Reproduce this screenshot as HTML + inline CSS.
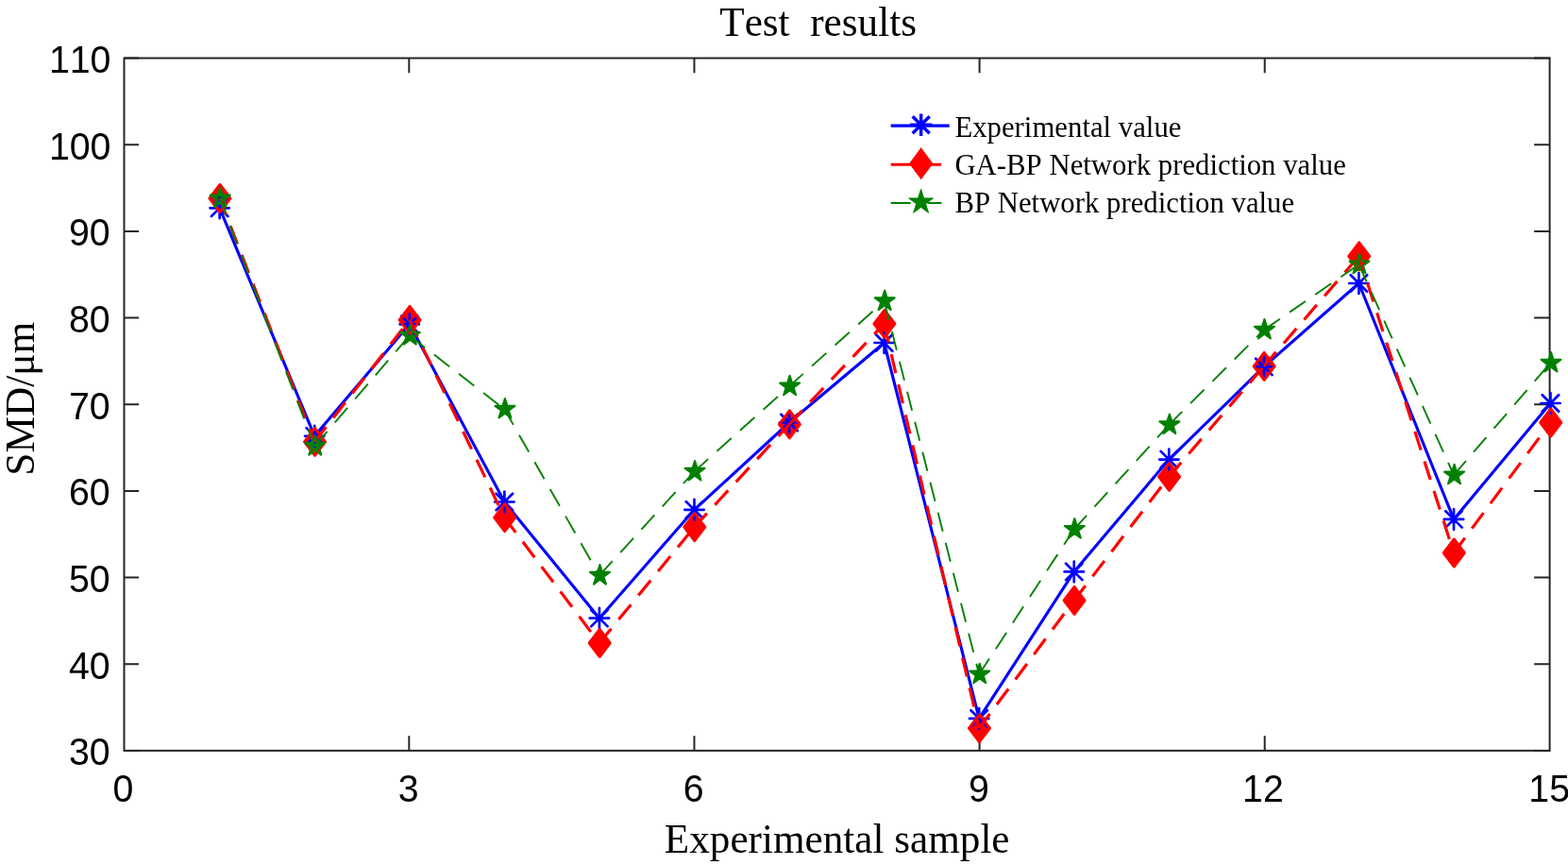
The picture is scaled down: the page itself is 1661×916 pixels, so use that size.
<!DOCTYPE html>
<html lang="en"><head><meta charset="utf-8"><title>Test results</title>
<style>
html,body{margin:0;padding:0;background:#fff;}
body{width:1661px;height:916px;overflow:hidden;}
svg{display:block;}
text{white-space:pre;font-kerning:none;}
.sans{font-family:"Liberation Sans",sans-serif;fill:#000;}
.serif{font-family:"Liberation Serif",serif;fill:#000;}
</style></head><body>
<svg width="1661" height="916" viewBox="0 0 1661 916" role="img" aria-label="Test results chart">
<rect width="1661" height="916" fill="#fff"/>
<g id="axes" fill="none" stroke="#262626" stroke-width="2" stroke-linecap="butt">
<rect x="131.5" y="61.55" width="1510.1" height="733.35"/>
<path d="M433.33 794.9v-15.6M433.33 61.55v15.6M735.46 794.9v-15.6M735.46 61.55v15.6M1037.59 794.9v-15.6M1037.59 61.55v15.6M1339.72 794.9v-15.6M1339.72 61.55v15.6M131.5 794.9h15.6M1642.2 794.9h-17.1M131.5 703.23h15.6M1642.2 703.23h-17.1M131.5 611.56h15.6M1642.2 611.56h-17.1M131.5 519.89h15.6M1642.2 519.89h-17.1M131.5 428.22h15.6M1642.2 428.22h-17.1M131.5 336.56h15.6M1642.2 336.56h-17.1M131.5 244.89h15.6M1642.2 244.89h-17.1M131.5 153.22h15.6M1642.2 153.22h-17.1M131.5 61.55h15.6M1642.2 61.55h-17.1"/>
</g>
<g id="yticks" class="sans" font-size="39.3" text-anchor="end">
<text transform="translate(116.6 809.6) scale(1 1.04)">30</text>
<text transform="translate(116.6 718.5) scale(1 1.04)">40</text>
<text transform="translate(116.6 626.6) scale(1 1.04)">50</text>
<text transform="translate(116.6 534.6) scale(1 1.04)">60</text>
<text transform="translate(116.6 443.5) scale(1 1.04)">70</text>
<text transform="translate(116.6 351.6) scale(1 1.04)">80</text>
<text transform="translate(116.6 259.6) scale(1 1.04)">90</text>
<text transform="translate(117.45 168.5) scale(1 1.04)">100</text>
<text transform="translate(117.45 76.5) scale(1 1.04)">110</text>
</g>
<g id="xticks" class="sans" font-size="39.3" text-anchor="middle">
<text transform="translate(130.5 848.8) scale(1 1.04)">0</text>
<text transform="translate(432.63 848.8) scale(1 1.04)">3</text>
<text transform="translate(734.76 848.8) scale(1 1.04)">6</text>
<text transform="translate(1036.89 848.8) scale(1 1.04)">9</text>
<text transform="translate(1337.92 848.8) scale(1 1.04)">12</text>
<text transform="translate(1641.15 848.8) scale(1 1.04)">15</text>
</g>
<g id="labels" class="serif" font-size="43.2" text-anchor="middle">
<text transform="translate(866.6 38) scale(1 1.022)">Test  results</text>
<text transform="translate(886.7 903.1) scale(1 1.022)">Experimental sample</text>
<text transform="translate(36 422.3) rotate(-90) scale(1 1.02)" font-size="43.3">SMD/μm</text>
</g>
<g id="fills" stroke="none">
<g fill="#ff0000">
<polygon points="232.97,195.5 243.97,210 232.97,224.5 221.97,210"/>
<polygon points="333.53,453.4 344.53,467.9 333.53,482.4 322.53,467.9"/>
<polygon points="434.09,324.3 445.09,338.8 434.09,353.3 423.09,338.8"/>
<polygon points="534.66,533.6 545.66,548.1 534.66,562.6 523.66,548.1"/>
<polygon points="635.22,666.5 646.22,681 635.22,695.5 624.22,681"/>
<polygon points="735.79,543.7 746.79,558.2 735.79,572.7 724.79,558.2"/>
<polygon points="836.35,434.8 847.35,449.3 836.35,463.8 825.35,449.3"/>
<polygon points="936.92,328.4 947.92,342.9 936.92,357.4 925.92,342.9"/>
<polygon points="1037.48,756.7 1048.48,771.2 1037.48,785.7 1026.48,771.2"/>
<polygon points="1138.05,621.4 1149.05,635.9 1138.05,650.4 1127.05,635.9"/>
<polygon points="1238.61,490.4 1249.61,504.9 1238.61,519.4 1227.61,504.9"/>
<polygon points="1339.18,373.35 1350.18,387.85 1339.18,402.35 1328.18,387.85"/>
<polygon points="1439.74,256.8 1450.74,271.3 1439.74,285.8 1428.74,271.3"/>
<polygon points="1540.31,571 1551.31,585.5 1540.31,600 1529.31,585.5"/>
<polygon points="1642.75,433 1653.75,447.5 1642.75,462 1631.75,447.5"/>
</g><g fill="#008000">
<polygon points="233.22,198.77 235.68,206.6 243.68,206.6 237.21,211.44 239.68,219.27 233.22,214.43 226.75,219.27 229.22,211.44 222.75,206.6 230.75,206.6"/>
<polygon points="333.78,461.07 336.25,468.9 344.24,468.9 337.78,473.74 340.25,481.57 333.78,476.73 327.31,481.57 329.78,473.74 323.32,468.9 331.31,468.9"/>
<polygon points="434.34,344.07 436.81,351.9 444.81,351.9 438.34,356.74 440.81,364.57 434.34,359.73 427.88,364.57 430.35,356.74 423.88,351.9 431.88,351.9"/>
<polygon points="534.91,421.97 537.38,429.8 545.37,429.8 538.91,434.64 541.38,442.47 534.91,437.63 528.44,442.47 530.91,434.64 524.45,429.8 532.44,429.8"/>
<polygon points="635.47,598.07 637.94,605.9 645.94,605.9 639.47,610.74 641.94,618.57 635.47,613.73 629.01,618.57 631.48,610.74 625.01,605.9 633.01,605.9"/>
<polygon points="736.04,487.97 738.51,495.8 746.5,495.8 740.04,500.64 742.51,508.47 736.04,503.63 729.57,508.47 732.04,500.64 725.58,495.8 733.57,495.8"/>
<polygon points="836.6,397.77 839.07,405.6 847.07,405.6 840.6,410.44 843.07,418.27 836.6,413.43 830.14,418.27 832.61,410.44 826.14,405.6 834.14,405.6"/>
<polygon points="937.17,307.57 939.64,315.4 947.63,315.4 941.17,320.24 943.64,328.07 937.17,323.23 930.7,328.07 933.17,320.24 926.71,315.4 934.7,315.4"/>
<polygon points="1037.73,702.77 1040.2,710.6 1048.2,710.6 1041.73,715.44 1044.2,723.27 1037.73,718.43 1031.27,723.27 1033.74,715.44 1027.27,710.6 1035.27,710.6"/>
<polygon points="1138.3,549.17 1140.77,557 1148.76,557 1142.3,561.84 1144.77,569.67 1138.3,564.83 1131.83,569.67 1134.3,561.84 1127.84,557 1135.83,557"/>
<polygon points="1238.86,438.57 1241.33,446.4 1249.33,446.4 1242.86,451.24 1245.33,459.07 1238.86,454.23 1232.4,459.07 1234.87,451.24 1228.4,446.4 1236.4,446.4"/>
<polygon points="1339.43,338.02 1341.9,345.85 1349.89,345.85 1343.43,350.69 1345.9,358.52 1339.43,353.68 1332.96,358.52 1335.43,350.69 1328.97,345.85 1336.96,345.85"/>
<polygon points="1439.99,268.77 1442.46,276.6 1450.46,276.6 1443.99,281.44 1446.46,289.27 1439.99,284.43 1433.53,289.27 1436,281.44 1429.53,276.6 1437.53,276.6"/>
<polygon points="1540.56,491.77 1543.03,499.6 1551.02,499.6 1544.56,504.44 1547.03,512.27 1540.56,507.43 1534.09,512.27 1536.56,504.44 1530.1,499.6 1538.09,499.6"/>
<polygon points="1643,372.97 1645.47,380.8 1653.46,380.8 1647,385.64 1649.47,393.47 1643,388.63 1636.53,393.47 1639,385.64 1632.54,380.8 1640.53,380.8"/>
</g></g>
<g id="experimental" fill="none" stroke="#0000ff">
<polyline points="232.66,220.3 333.23,461.8 433.79,343.3 534.36,531.5 634.92,654.7 735.49,539.85 836.05,447.5 936.62,363 1037.18,760.9 1137.75,605.45 1238.31,486.6 1338.88,388.45 1439.44,300 1540.01,549.9 1642.45,427" stroke-width="3.1" stroke-linejoin="round"/>
<path stroke-width="2.7" stroke-linecap="round" d="M232.66 209.4V231.2 M222.47 220.3H242.86 M223.97 211.6L241.36 229 M223.97 229L241.36 211.6 M333.23 450.9V472.7 M323.03 461.8H343.43 M324.53 453.1L341.93 470.5 M324.53 470.5L341.93 453.1 M433.79 332.4V354.2 M423.59 343.3H443.99 M425.09 334.6L442.49 352 M425.09 352L442.49 334.6 M534.36 520.6V542.4 M524.16 531.5H544.56 M525.66 522.8L543.06 540.2 M525.66 540.2L543.06 522.8 M634.92 643.8V665.6 M624.72 654.7H645.12 M626.22 646L643.62 663.4 M626.22 663.4L643.62 646 M735.49 528.95V550.75 M725.29 539.85H745.69 M726.79 531.15L744.19 548.55 M726.79 548.55L744.19 531.15 M836.05 436.6V458.4 M825.85 447.5H846.25 M827.35 438.8L844.75 456.2 M827.35 456.2L844.75 438.8 M936.62 352.1V373.9 M926.42 363H946.82 M927.92 354.3L945.32 371.7 M927.92 371.7L945.32 354.3 M1037.18 750V771.8 M1026.98 760.9H1047.38 M1028.48 752.2L1045.88 769.6 M1028.48 769.6L1045.88 752.2 M1137.75 594.55V616.35 M1127.55 605.45H1147.95 M1129.05 596.75L1146.45 614.15 M1129.05 614.15L1146.45 596.75 M1238.31 475.7V497.5 M1228.11 486.6H1248.51 M1229.61 477.9L1247.01 495.3 M1229.61 495.3L1247.01 477.9 M1338.88 377.55V399.35 M1328.68 388.45H1349.08 M1330.18 379.75L1347.58 397.15 M1330.18 397.15L1347.58 379.75 M1439.44 289.1V310.9 M1429.24 300H1449.64 M1430.74 291.3L1448.14 308.7 M1430.74 308.7L1448.14 291.3 M1540.01 539V560.8 M1529.81 549.9H1550.21 M1531.31 541.2L1548.71 558.6 M1531.31 558.6L1548.71 541.2 M1642.45 416.1V437.9 M1632.25 427H1652.65 M1633.75 418.3L1651.15 435.7 M1633.75 435.7L1651.15 418.3"/>
</g>
<g id="gabp" fill="none" stroke="#ff0000">
<g stroke-width="3.2">
<path d="M232.66 210L333.23 467.9" stroke-dasharray="20.59 12.41" stroke-dashoffset="1.8"/>
<path d="M333.23 467.9L433.79 338.8" stroke-dasharray="20.59 12.41" stroke-dashoffset="0.8"/>
<path d="M433.79 338.8L534.36 548.1" stroke-dasharray="20.59 12.41" stroke-dashoffset="0.8"/>
<path d="M534.36 548.1L634.92 681" stroke-dasharray="20.59 12.41" stroke-dashoffset="0.8"/>
<path d="M634.92 681L735.49 558.2" stroke-dasharray="20.59 12.41" stroke-dashoffset="0.8"/>
<path d="M735.49 558.2L836.05 449.3" stroke-dasharray="20.59 12.41" stroke-dashoffset="0.8"/>
<path d="M836.05 449.3L936.62 342.9" stroke-dasharray="20.59 12.41" stroke-dashoffset="0.8"/>
<path d="M936.62 342.9L1037.18 771.2" stroke-dasharray="20.59 12.41"/>
<path d="M1037.18 771.2L1137.75 635.9" stroke-dasharray="20.59 12.41" stroke-dashoffset="1.6"/>
<path d="M1137.75 635.9L1238.31 504.9" stroke-dasharray="20.59 12.41" stroke-dashoffset="0.8"/>
<path d="M1238.31 504.9L1338.88 387.85" stroke-dasharray="20.59 12.41" stroke-dashoffset="0.8"/>
<path d="M1338.88 387.85L1439.44 271.3" stroke-dasharray="20.59 12.41" stroke-dashoffset="0.8"/>
<path d="M1439.44 271.3L1540.01 585.5" stroke-dasharray="20.59 12.41" stroke-dashoffset="3"/>
<path d="M1540.01 585.5L1642.45 447.5" stroke-dasharray="20.59 12.41" stroke-dashoffset="0.8"/>
</g>
<g stroke-width="3" stroke-linejoin="round">
<polygon points="232.97,195.5 243.97,210 232.97,224.5 221.97,210"/>
<polygon points="333.53,453.4 344.53,467.9 333.53,482.4 322.53,467.9"/>
<polygon points="434.09,324.3 445.09,338.8 434.09,353.3 423.09,338.8"/>
<polygon points="534.66,533.6 545.66,548.1 534.66,562.6 523.66,548.1"/>
<polygon points="635.22,666.5 646.22,681 635.22,695.5 624.22,681"/>
<polygon points="735.79,543.7 746.79,558.2 735.79,572.7 724.79,558.2"/>
<polygon points="836.35,434.8 847.35,449.3 836.35,463.8 825.35,449.3"/>
<polygon points="936.92,328.4 947.92,342.9 936.92,357.4 925.92,342.9"/>
<polygon points="1037.48,756.7 1048.48,771.2 1037.48,785.7 1026.48,771.2"/>
<polygon points="1138.05,621.4 1149.05,635.9 1138.05,650.4 1127.05,635.9"/>
<polygon points="1238.61,490.4 1249.61,504.9 1238.61,519.4 1227.61,504.9"/>
<polygon points="1339.18,373.35 1350.18,387.85 1339.18,402.35 1328.18,387.85"/>
<polygon points="1439.74,256.8 1450.74,271.3 1439.74,285.8 1428.74,271.3"/>
<polygon points="1540.31,571 1551.31,585.5 1540.31,600 1529.31,585.5"/>
<polygon points="1642.75,433 1653.75,447.5 1642.75,462 1631.75,447.5"/>
</g></g>
<g id="bp" fill="none" stroke="#008000">
<g stroke-width="1.9">
<path d="M232.66 210.1L333.23 472.4" stroke-dasharray="20.59 12.41" stroke-dashoffset="1.6"/>
<path d="M333.23 472.4L433.79 355.4" stroke-dasharray="20.59 12.41"/>
<path d="M433.79 355.4L534.36 433.3" stroke-dasharray="20.59 12.41"/>
<path d="M534.36 433.3L634.92 609.4" stroke-dasharray="20.59 12.41" stroke-dashoffset="1.5"/>
<path d="M634.92 609.4L735.49 499.3" stroke-dasharray="20.59 12.41"/>
<path d="M735.49 499.3L836.05 409.1" stroke-dasharray="20.59 12.41" stroke-dashoffset="0.8"/>
<path d="M836.05 409.1L936.62 318.9" stroke-dasharray="20.59 12.41" stroke-dashoffset="0.8"/>
<path d="M936.62 318.9L1037.18 714.1" stroke-dasharray="20.59 12.41"/>
<path d="M1037.18 714.1L1137.75 560.5" stroke-dasharray="20.59 12.41" stroke-dashoffset="0.8"/>
<path d="M1137.75 560.5L1238.31 449.9" stroke-dasharray="20.59 12.41" stroke-dashoffset="0.8"/>
<path d="M1238.31 449.9L1338.88 349.35" stroke-dasharray="20.59 12.41" stroke-dashoffset="0.8"/>
<path d="M1338.88 349.35L1439.44 280.1" stroke-dasharray="20.59 12.41"/>
<path d="M1439.44 280.1L1540.01 503.1" stroke-dasharray="20.59 12.41" stroke-dashoffset="0.8"/>
<path d="M1540.01 503.1L1642.45 384.3" stroke-dasharray="20.59 12.41" stroke-dashoffset="0.8"/>
</g>
<g stroke-width="2.1" stroke-linejoin="round">
<polygon points="233.22,198.77 235.68,206.6 243.68,206.6 237.21,211.44 239.68,219.27 233.22,214.43 226.75,219.27 229.22,211.44 222.75,206.6 230.75,206.6"/>
<polygon points="333.78,461.07 336.25,468.9 344.24,468.9 337.78,473.74 340.25,481.57 333.78,476.73 327.31,481.57 329.78,473.74 323.32,468.9 331.31,468.9"/>
<polygon points="434.34,344.07 436.81,351.9 444.81,351.9 438.34,356.74 440.81,364.57 434.34,359.73 427.88,364.57 430.35,356.74 423.88,351.9 431.88,351.9"/>
<polygon points="534.91,421.97 537.38,429.8 545.37,429.8 538.91,434.64 541.38,442.47 534.91,437.63 528.44,442.47 530.91,434.64 524.45,429.8 532.44,429.8"/>
<polygon points="635.47,598.07 637.94,605.9 645.94,605.9 639.47,610.74 641.94,618.57 635.47,613.73 629.01,618.57 631.48,610.74 625.01,605.9 633.01,605.9"/>
<polygon points="736.04,487.97 738.51,495.8 746.5,495.8 740.04,500.64 742.51,508.47 736.04,503.63 729.57,508.47 732.04,500.64 725.58,495.8 733.57,495.8"/>
<polygon points="836.6,397.77 839.07,405.6 847.07,405.6 840.6,410.44 843.07,418.27 836.6,413.43 830.14,418.27 832.61,410.44 826.14,405.6 834.14,405.6"/>
<polygon points="937.17,307.57 939.64,315.4 947.63,315.4 941.17,320.24 943.64,328.07 937.17,323.23 930.7,328.07 933.17,320.24 926.71,315.4 934.7,315.4"/>
<polygon points="1037.73,702.77 1040.2,710.6 1048.2,710.6 1041.73,715.44 1044.2,723.27 1037.73,718.43 1031.27,723.27 1033.74,715.44 1027.27,710.6 1035.27,710.6"/>
<polygon points="1138.3,549.17 1140.77,557 1148.76,557 1142.3,561.84 1144.77,569.67 1138.3,564.83 1131.83,569.67 1134.3,561.84 1127.84,557 1135.83,557"/>
<polygon points="1238.86,438.57 1241.33,446.4 1249.33,446.4 1242.86,451.24 1245.33,459.07 1238.86,454.23 1232.4,459.07 1234.87,451.24 1228.4,446.4 1236.4,446.4"/>
<polygon points="1339.43,338.02 1341.9,345.85 1349.89,345.85 1343.43,350.69 1345.9,358.52 1339.43,353.68 1332.96,358.52 1335.43,350.69 1328.97,345.85 1336.96,345.85"/>
<polygon points="1439.99,268.77 1442.46,276.6 1450.46,276.6 1443.99,281.44 1446.46,289.27 1439.99,284.43 1433.53,289.27 1436,281.44 1429.53,276.6 1437.53,276.6"/>
<polygon points="1540.56,491.77 1543.03,499.6 1551.02,499.6 1544.56,504.44 1547.03,512.27 1540.56,507.43 1534.09,512.27 1536.56,504.44 1530.1,499.6 1538.09,499.6"/>
<polygon points="1643,372.97 1645.47,380.8 1653.46,380.8 1647,385.64 1649.47,393.47 1643,388.63 1636.53,393.47 1639,385.64 1632.54,380.8 1640.53,380.8"/>
</g></g>
<g id="legend">
<g fill="none" stroke="#0000ff">
<path stroke-width="3.2" d="M943.7 133.2H1005.7"/>
<path stroke-width="3.5" stroke-linecap="butt" d="M975.7 120.5V144.1 M964.1 132.3H987.3 M966.7 123.3L984.7 141.3 M966.7 141.3L984.7 123.3"/>
</g>
<g stroke="#ff0000">
<path fill="none" stroke-width="3.1" d="M943.7 174.2H997.1"/>
<polygon fill="#ff0000" stroke-width="2" stroke-linejoin="miter" points="975.7,157.8 987.1,173.2 975.7,188.6 964.3,173.2"/>
</g>
<g stroke="#008000">
<path fill="none" stroke-width="2.0" d="M943.7 215.1H964.6M982.5 215.1H997.4"/>
<polygon fill="#008000" stroke-width="1" stroke-linejoin="miter" points="975.6,200.45 978.64,209.95 988.49,209.95 980.52,215.82 983.56,225.33 975.6,219.45 967.64,225.33 970.68,215.82 962.71,209.95 972.56,209.95"/>
</g>
<g class="serif" font-size="30.78">
<text transform="translate(1011.4 145.1) scale(1 1.05)">Experimental value</text>
<text transform="translate(1011.4 185.4) scale(1 1.05)">GA-BP Network prediction value</text>
<text transform="translate(1011.4 225.2) scale(1 1.05)">BP Network prediction value</text>
</g></g>
</svg>
</body></html>
